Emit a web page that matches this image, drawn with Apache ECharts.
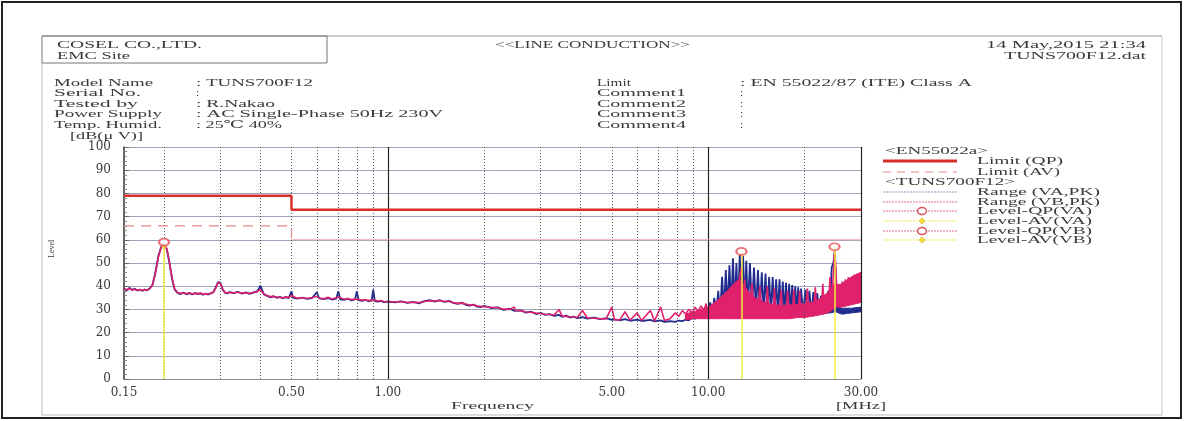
<!DOCTYPE html>
<html><head><meta charset="utf-8">
<script src="https://cdn.jsdelivr.net/npm/echarts@6/dist/echarts.min.js"></script>
<style>html,body{margin:0;padding:0;background:#fff}#c{width:1184px;height:421px}</style>
</head><body><div id="c"></div>
<script>
// ---------------- DATA ----------------
const freqMHz = [
0.150,0.153,0.156,0.159,0.162,0.165,0.168,0.171,0.174,0.177,
0.180,0.184,0.188,0.192,0.196,0.200,0.204,0.208,0.212,0.216,
0.220,0.225,0.230,0.235,0.240,0.245,0.250,0.255,0.260,0.265,
0.270,0.275,0.280,0.285,0.290,0.295,0.300,0.305,0.310,0.315,
0.320,0.330,0.340,0.350,0.360,0.370,0.380,0.390,0.395,0.400,
0.405,0.410,0.420,0.430,0.440,0.450,0.460,0.470,0.480,0.490,
0.495,0.500,0.505,0.520,0.540,0.560,0.580,0.600,0.610,0.630,
0.650,0.670,0.690,0.700,0.710,0.730,0.750,0.770,0.790,0.800,
0.810,0.830,0.850,0.870,0.890,0.900,0.910,0.930,0.950,0.970,
1.00,1.05,1.10,1.15,1.20,1.25,1.30,1.35,1.40,1.45,
1.50,1.55,1.60,1.65,1.70,1.75,1.80,1.85,1.90,1.95,
2.00,2.10,2.20,2.30,2.40,2.48,2.50,2.60,2.70,2.80,
2.90,3.00,3.10,3.20,3.30,3.42,3.50,3.60,3.70,3.80,
3.90,4.05,4.20,4.40,4.60,4.80,5.00,5.10,5.30,5.50,
5.70,6.00,6.20,6.60,6.80,7.10,7.30,7.60,7.90,8.10,
8.30,8.50,8.70,8.90,9.10,9.30,9.50,9.70,9.85,10.00,
10.15,10.30,10.45,10.60,10.75,10.90,11.05,11.20,11.35,11.50,
11.65,11.80,11.95,12.10,12.25,12.40,12.55,12.70,12.85,13.00,
13.15,13.30,13.50,13.70,13.90,14.10,14.30,14.50,14.70,14.90,
15.10,15.30,15.50,15.70,15.90,16.10,16.30,16.50,16.70,16.90,
17.10,17.30,17.50,17.70,17.90,18.10,18.30,18.50,18.70,18.90,
19.10,19.30,19.50,19.80,20.10,20.40,20.70,21.00,21.30,21.60,
21.90,22.20,22.50,22.80,23.10,23.40,23.70,24.00,24.30,24.60,
24.80,25.00,25.30,25.60,25.90,26.20,26.50,26.80,27.10,27.40,
27.70,28.00,28.30,28.60,28.90,29.20,29.50,29.80,30.00
];
// Range (VA,PK) - blue trace, dB(uV)
const levelVA = [
39.0,38.2,39.3,38.4,38.9,38.1,38.6,38.0,38.5,38.2,
38.9,40.5,46.0,53.0,57.0,58.5,56.0,50.0,43.0,38.5,
37.2,36.6,37.3,36.5,37.0,36.4,37.1,36.6,36.9,36.3,
36.8,36.4,36.9,37.4,39.5,41.8,41.5,38.5,37.2,36.9,
37.5,37.0,37.6,36.8,37.3,36.7,37.2,37.8,38.8,40.2,
38.3,36.5,35.8,35.2,35.7,35.0,35.4,34.8,35.3,34.9,
35.2,37.8,35.1,34.6,35.1,34.5,34.9,37.4,34.8,34.4,
34.9,34.2,34.6,37.8,34.3,34.1,34.6,33.9,34.3,37.8,
34.0,33.7,34.1,33.5,33.9,38.5,33.6,33.3,33.7,33.1,
33.4,33.0,33.5,32.8,33.2,32.6,33.6,34.0,33.4,34.0,
33.2,33.7,32.8,32.4,32.9,32.0,31.6,32.1,31.2,31.0,
31.5,30.6,30.9,29.8,30.3,29.4,29.3,29.6,28.6,29.0,
28.0,28.5,27.6,28.0,27.2,27.6,26.8,27.3,26.5,26.9,
26.2,26.7,26.0,26.5,25.8,26.2,25.5,25.7,25.3,25.8,
25.1,25.6,25.0,25.5,24.8,25.3,24.6,24.9,24.6,25.2,
24.9,25.6,25.3,26.2,26.0,27.0,26.8,28.0,28.0,29.0,
33,28,35,28.5,38,28,44,29,47,30,
49,30,52,31,50,31,54,32,53,31,
51,30,50,30,48,29,47,29,46,29,
45.5,28.5,44,28,44,28,43,28,43,28,
42,28,41.5,28,41,28,40.5,28,40,28,
39.5,28,39,28,38.5,28,38,28,37.5,28,
37,28,36,28.5,36,29,38,29,48,50,
54,45,32,29,28.5,29,28,29,28.5,29.5,
28.5,29.5,29,30,29,30,29,30,29.5
];
// Range (VB,PK) - pink trace, dB(uV)
const levelVB = [
38.8,38.5,39.0,38.3,38.7,38.3,38.5,38.1,38.6,38.3,
38.8,40.3,45.5,52.5,56.8,58.2,56.3,50.5,43.5,38.8,
37.4,36.9,37.1,36.7,37.2,36.6,36.9,36.8,37.1,36.5,
36.7,36.6,37.0,37.3,39.2,41.5,41.2,38.7,37.4,37.1,
37.3,37.2,37.4,37.0,37.2,36.9,37.4,37.6,38.0,38.6,
37.6,36.6,36.0,35.5,35.6,35.3,35.2,35.0,35.4,35.1,
35.3,36.0,35.2,34.8,35.0,34.7,35.1,35.6,34.9,34.6,
35.2,34.5,35.0,35.4,34.8,34.4,34.7,34.2,34.5,35.0,
34.3,34.0,34.2,33.8,34.0,34.6,33.9,33.6,33.8,33.4,
33.3,33.2,33.4,33.0,33.1,32.9,33.4,33.7,33.6,33.8,
33.4,33.5,33.0,32.6,32.7,32.3,31.9,32.0,31.5,31.3,
31.2,30.9,30.7,30.1,30.0,31.0,29.6,29.4,28.9,28.8,
28.4,28.2,27.9,27.8,27.5,30.0,27.1,27.0,26.8,26.7,
26.5,29.5,26.3,26.2,26.0,25.9,31.0,25.6,25.5,29.0,
25.3,28.5,25.2,29.5,25.0,31.0,25.2,26.0,28.5,27.0,
29.5,28.0,30.0,28.5,31.0,29.0,31.5,29.5,32.5,27.0,
31,26.5,33,26.5,34,27,36,27,37,27,
38,27,40,27,42,27,44,48,27,43,
28,36,27,41,27,34,27,40,27,33,
27,40,26.5,32.5,26.5,39,26.5,32,26.5,38.5,
26.5,32,26.5,38,26.5,32,26.5,38.5,26.5,32,
27,38,27,32.5,27,39,27,33,27,39.5,
27.5,34,28,41,28,36,29,44,30,46,
55,50,32,41,31,42,31.5,43,32,44,
32,44,32.5,45,33,45.5,33,46,34
];
// dense-emission region (solid mass of the traces), read as lower/upper envelope
const massFreqVB = [8.5, 9.0, 9.5, 10.0, 10.5, 11.0, 11.5, 12.0, 12.5, 13.0, 13.5, 14.0, 15.0, 16.0, 17.0, 18.0, 19.0, 20.0, 21.0, 22.0, 23.0, 24.0, 24.5, 25.0, 25.5, 26.0, 27.0, 28.0, 29.0, 30.0];
const massLowVB  = [25.5, 26.0, 26.0, 26.0, 26.0, 26.0, 26.0, 26.0, 26.0, 26.0, 26.0, 26.0, 26.0, 26.0, 26.0, 26.0, 26.5, 26.5, 27.0, 27.5, 28.0, 29.0, 30.0, 31.0, 31.0, 31.0, 31.5, 32.0, 32.5, 33.0];
const massHighVB = [28.0, 29.0, 30.0, 31.0, 33.0, 35.5, 38.0, 41.0, 43.0, 40.0, 37.0, 35.0, 33.0, 32.0, 31.5, 32.0, 32.0, 32.5, 33.0, 34.0, 36.0, 38.0, 40.0, 42.0, 40.0, 41.0, 42.5, 44.0, 45.0, 46.0];
const massFreqVA = [10.5, 11.0, 11.5, 12.0, 12.5, 13.0, 13.5, 14.0, 15.0, 16.0, 18.0, 20.0, 22.0, 24.0, 25.0, 26.0, 28.0, 30.0];
const massLowVA  = [27.0, 27.0, 27.5, 28.0, 28.0, 28.0, 28.0, 28.0, 27.5, 27.5, 27.5, 27.5, 28.0, 28.5, 29.0, 28.0, 28.5, 29.0];
const massHighVA = [30.0, 34.0, 38.0, 40.0, 42.0, 40.0, 37.0, 35.0, 33.0, 31.5, 30.5, 30.0, 30.0, 31.0, 33.0, 30.5, 30.5, 31.0];
// EN55022 Class A limits (break at 0.5 MHz)
const limitFreq = [0.15, 0.5, 30];
const limitQP = [79, 73];
const limitAV = [66, 60];
// final measurement peaks
const peakFreq = [0.2, 12.7, 24.8];
const peakQP = [59, 55, 57];
const peakAV = [57, 54, 56];
// frequency grid / tick labels
const gridFreqMinor = [0.2,0.3,0.4,0.5,0.6,0.7,0.8,0.9,2,3,4,5,6,7,8,9,20];
const gridFreqMajor = [1, 10, 30];
const xTickValues = [0.15, 0.5, 1, 5, 10, 30];

// ---------------- CHART ----------------
const chart = echarts.init(document.getElementById('c'), null, {renderer: 'canvas'});
const SERIF = '"Liberation Serif", "DejaVu Serif", serif';
const mctx = document.createElement('canvas').getContext('2d');
function T(text, x, y, w, opt) {
  opt = opt || {};
  const size = opt.size || 11;
  const font = size + 'px ' + SERIF;
  mctx.font = font;
  const mw = mctx.measureText(text).width;
  const sx = w ? w / mw : 1;
  const al = opt.align || 'left';
  return {type: 'text', x: x, y: y, scaleX: sx, rotation: opt.rot || 0, silent: true, z: 100,
    style: {text: text, font: font, fill: opt.color || '#3a3a3a', align: al, textAlign: al,
      verticalAlign: 'middle', textVerticalAlign: 'middle'}};
}
function L(x1, y1, x2, y2, stroke, lw, dash) {
  return {type: 'line', silent: true, z: 100, shape: {x1: x1, y1: y1, x2: x2, y2: y2},
    style: {stroke: stroke, lineWidth: lw || 1, lineDash: dash || null}};
}

const graphics = [
  {type: 'rect', silent: true, z: 100, shape: {x: 2, y: 2, width: 1179, height: 416},
    style: {fill: 'none', stroke: '#222', lineWidth: 2}},
  L(42, 36, 1162, 36, '#999', 1),
  {type: 'rect', silent: true, z: 100, shape: {x: 42, y: 36, width: 285, height: 27},
    style: {fill: 'none', stroke: '#777', lineWidth: 1}},
  L(42, 63, 42, 415, '#bbb', 1),
  L(42, 415, 1162, 415, '#bbb', 1),
  L(1162, 36, 1162, 415, '#ccc', 1),
  T('COSEL CO.,LTD.', 57, 45, 145),
  T('EMC Site', 57, 56, 73),
  T('<<LINE CONDUCTION>>', 495, 45, 195),
  T('14 May,2015 21:34', 1146, 45, 160, {align: 'right'}),
  T('TUNS700F12.dat', 1146, 56, 142, {align: 'right'}),
  T('Model Name', 54, 83, 99),
  T('Serial No.', 54, 93.5, 87),
  T('Tested by', 54, 104, 84),
  T('Power Supply', 54, 114.5, 108),
  T('Temp. Humid.', 54, 125, 108),
  T(': TUNS700F12', 196, 83, 117),
  T(':', 196, 93.5, 0),
  T(': R.Nakao', 196, 104, 79),
  T(': AC Single-Phase 50Hz 230V', 196, 114.5, 247),
  T(': 25\u2103 40%', 196, 125, 86),
  T('[dB(\u03bc V)]', 70, 136, 73),
  T('Limit', 597, 83, 34),
  T('Comment1', 597, 93.5, 89),
  T('Comment2', 597, 104, 89),
  T('Comment3', 597, 114.5, 89),
  T('Comment4', 597, 125, 89),
  T(': EN 55022/87 (ITE) Class A', 740, 83, 232),
  T(':', 740, 93.5, 0),
  T(':', 740, 104, 0),
  T(':', 740, 114.5, 0),
  T(':', 740, 125, 0),
  T('Frequency', 451, 406, 83),
  T('[MHz]', 836, 406, 50),
  T('Level', 52, 258, 0, {size: 8, rot: Math.PI / 2}),
  // legend
  T('<EN55022a>', 885, 151, 103),
  L(883, 161, 957, 161, '#d62f2a', 3),
  T('Limit (QP)', 977, 161, 86),
  L(883, 172, 957, 172, '#e98a8a', 1, [8, 6]),
  T('Limit (AV)', 977, 172, 83),
  T('<TUNS700F12>', 885, 182, 130),
  L(883, 192, 957, 192, '#8f93c4', 1, [2, 1]),
  T('Range (VA,PK)', 977, 192, 123),
  L(883, 202, 957, 202, '#e0709a', 1, [2, 1]),
  T('Range (VB,PK)', 977, 202, 123),
  L(883, 211, 957, 211, '#e07080', 1, [2, 1]),
  {type: 'ellipse', silent: true, z: 101, shape: {cx: 922, cy: 211, rx: 4.5, ry: 3.5},
    style: {fill: '#fff', stroke: '#e0505a', lineWidth: 1.5}},
  T('Level-QP(VA)', 977, 211, 115),
  L(883, 221, 957, 221, '#f2ea50', 1, [2, 1]),
  {type: 'polygon', silent: true, z: 101, shape: {points: [[922, 218], [925, 221], [922, 224], [919, 221]]},
    style: {fill: '#f5e040', stroke: '#e8c030', lineWidth: 1}},
  T('Level-AV(VA)', 977, 221, 115),
  L(883, 231, 957, 231, '#e07080', 1, [2, 1]),
  {type: 'ellipse', silent: true, z: 101, shape: {cx: 922, cy: 231, rx: 4.5, ry: 3.5},
    style: {fill: '#fff', stroke: '#e0505a', lineWidth: 1.5}},
  T('Level-QP(VB)', 977, 231, 115),
  L(883, 240, 957, 240, '#f2ea50', 1, [2, 1]),
  {type: 'polygon', silent: true, z: 101, shape: {points: [[922, 237], [925, 240], [922, 243], [919, 240]]},
    style: {fill: '#f5e040', stroke: '#e8c030', lineWidth: 1}},
  T('Level-AV(VB)', 977, 240, 115)
];

const zip = (xs, ys) => xs.map((x, i) => [x, ys[i]]);
const qpData = [[limitFreq[0], limitQP[0]], [limitFreq[1], limitQP[0]], [limitFreq[1], limitQP[1]], [limitFreq[2], limitQP[1]]];
const avData1 = [[limitFreq[0], limitAV[0]], [limitFreq[1], limitAV[0]], [limitFreq[1], limitAV[1]]];
const avData2 = [[limitFreq[1], limitAV[1]], [limitFreq[2], limitAV[1]]];

function bandSeries(name, freqs, lows, highs, color, z) {
  return {
    name: name, type: 'custom', z: z, silent: true, clip: true,
    data: freqs.map((f, i) => [f, lows[i], highs[i]]),
    encode: {x: 0, y: [1, 2]},
    renderItem: function (params, api) {
      if (params.dataIndex !== 0) return null;
      const pts = [];
      for (let i = 0; i < freqs.length; i++) pts.push(api.coord([freqs[i], highs[i]]));
      for (let i = freqs.length - 1; i >= 0; i--) pts.push(api.coord([freqs[i], lows[i]]));
      return {type: 'polygon', shape: {points: pts}, style: {fill: color, stroke: color, lineWidth: 1}};
    }
  };
}

const option = {
  animation: false,
  backgroundColor: '#fff',
  textStyle: {fontFamily: SERIF},
  grid: {left: 124, top: 147, width: 737, height: 232, containLabel: false},
  xAxis: {
    type: 'log', logBase: 10, min: 0.15, max: 30,
    axisLine: {show: true, lineStyle: {color: '#8a8fa0', width: 1}},
    axisTick: {show: false}, splitLine: {show: false}, minorTick: {show: false},
    axisLabel: {customValues: xTickValues, formatter: v => (+v).toFixed(2), showMinLabel: true, showMaxLabel: true,
      hideOverlap: false, margin: 8, fontSize: 12, fontFamily: '"DejaVu Serif", serif', color: '#3a3a3a'}
  },
  yAxis: {
    type: 'value', min: 0, max: 100, interval: 10,
    axisLine: {show: true, lineStyle: {color: '#333', width: 1.5}},
    axisTick: {show: true, inside: true, length: 5, lineStyle: {color: '#666'}},
    minorTick: {show: true, splitNumber: 5, length: 3, lineStyle: {color: '#888'}},
    splitLine: {show: true, lineStyle: {color: '#a0a6ba', width: 1}},
    axisLabel: {margin: 13, fontSize: 12, fontFamily: '"DejaVu Serif", serif', color: '#3a3a3a'}
  },
  graphic: {elements: graphics},
  series: [
    {name: 'grid', type: 'line', data: [], z: 1, silent: true,
      markLine: {silent: true, symbol: ['none', 'none'], label: {show: false}, animation: false,
        data: gridFreqMinor.map(f => ({xAxis: f, lineStyle: {color: '#555', width: 1, type: [1, 2]}}))
          .concat(gridFreqMajor.map(f => ({xAxis: f, lineStyle: {color: '#222', width: 1.2, type: 'solid'}})))}},
    bandSeries('VA mass', massFreqVA, massLowVA, massHighVA, '#26308e', 3),
    {name: 'Range (VA,PK)', type: 'line', data: zip(freqMHz, levelVA), symbol: 'none', z: 3,
      lineStyle: {color: '#1f2b8e', width: 1.8}},
    bandSeries('VB mass', massFreqVB, massLowVB, massHighVB, '#e0216c', 4),
    {name: 'Range (VB,PK)', type: 'line', data: zip(freqMHz, levelVB), symbol: 'none', z: 4,
      lineStyle: {color: '#e0216c', width: 1.6}},
    {name: 'Limit (QP)', type: 'line', data: qpData, symbol: 'none', z: 5,
      lineStyle: {color: '#d62f2a', width: 2.5}},
    {name: 'Limit (AV)', type: 'line', data: avData1, symbol: 'none', z: 5,
      lineStyle: {color: '#e98a8a', width: 1.2, type: [10, 7]}},
    {name: 'Limit (AV) 2', type: 'line', data: avData2, symbol: 'none', z: 5,
      lineStyle: {color: '#eaa0aa', width: 1}},
    {name: 'Level-AV', type: 'scatter', data: zip(peakFreq, peakAV), symbol: 'diamond', symbolSize: [6, 6], z: 7,
      itemStyle: {color: '#f3cf3a'},
      markLine: {silent: true, symbol: ['none', 'none'], label: {show: false}, animation: false,
        lineStyle: {color: '#f3ec3c', width: 1.5, type: 'solid'},
        data: peakFreq.map((f, i) => [{coord: [f, 0]}, {coord: [f, peakAV[i]]}])}},
    {name: 'Level-QP', type: 'scatter', data: zip(peakFreq, peakQP), symbol: 'emptyCircle', symbolSize: [10, 7], z: 8,
      itemStyle: {color: '#e8505a', borderColor: '#e8505a', borderWidth: 1.5}}
  ]
};
chart.setOption(option);
</script>
</body></html>
